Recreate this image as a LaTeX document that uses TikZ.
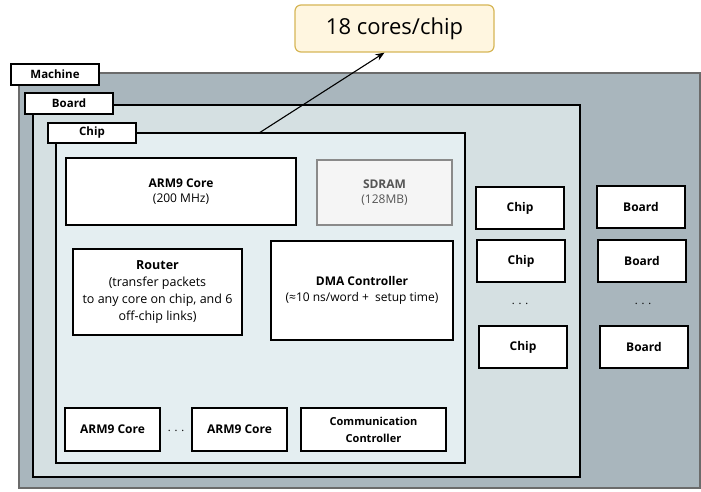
\documentclass[tikz,border=0pt]{standalone}
\usepackage{fontspec}
\setmainfont{Open Sans}
\usetikzlibrary{shadows,arrows.meta,calc}
\definecolor{machinefill}{HTML}{A9B6BD}
\definecolor{machineline}{HTML}{6B6B6B}
\definecolor{boardfill}{HTML}{D5E0E2}
\definecolor{chipfill}{HTML}{E4EEF1}
\definecolor{calloutfill}{HTML}{FFF6E0}
\definecolor{calloutline}{HTML}{D6B656}
\definecolor{sdramfill}{HTML}{F5F5F5}
\definecolor{sdramline}{HTML}{8A8A8A}
\definecolor{sdramtext}{HTML}{555555}
\tikzset{
  shd/.style={drop shadow={shadow xshift=1.2pt, shadow yshift=-1.2pt, opacity=0.35, fill=black}},
  frame/.style={draw=black, line width=1.2pt, shd, inner sep=0pt},
  wbox/.style={draw=black, fill=white, line width=1.2pt, shd, align=center, inner sep=1pt,
    font=\fontsize{12}{15}\selectfont},
  bbox/.style={wbox, font=\bfseries\fontsize{12}{15}\selectfont},
  tab/.style={wbox, font=\bfseries\fontsize{11.5}{13}\selectfont},
  dots/.style={font=\fontsize{11}{13}\selectfont, inner sep=0pt},
}
\begin{document}
\begin{tikzpicture}[x=1pt,y=-1pt]
\useasboundingbox (0,0) rectangle (701,492);
% frames
\node[frame, draw=machineline, fill=machinefill, minimum width=681, minimum height=415] (machine) at (359.5,280.5) {};
\node[frame, fill=boardfill, minimum width=547, minimum height=372] (board) at (306.5,291) {};
\node[frame, fill=chipfill, minimum width=409, minimum height=330] (chip) at (260.5,298) {};
% tabs
\node[tab, minimum width=88, minimum height=21] (machinetab) at (55,74.5) {Machine};
\node[tab, minimum width=88, minimum height=21] (boardtab) at (69,103.5) {Board};
\node[tab, minimum width=88, minimum height=20] (chiptab) at (92,133) {Chip};
% callout
\node[draw=calloutline, fill=calloutfill, line width=1.2pt, rounded corners=6pt,
  minimum width=199, minimum height=47, font=\fontsize{22}{26}\selectfont] (callout) at (394.5,28.5) {18 cores/chip};
% chip contents
\node[wbox, minimum width=230, minimum height=67] (arm) at (181,191.5) {\textbf{ARM9 Core}\\(200 MHz)};
\node[wbox, draw=sdramline, fill=sdramfill, text=sdramtext, minimum width=135, minimum height=65] (sdram) at (384.5,192.5) {\textbf{SDRAM}\\(128MB)};
\node[wbox, minimum width=169, minimum height=86, font=\fontsize{12.5}{16.8}\selectfont] (router) at (157.5,292) {\textbf{Router}\\(transfer packets\\to any core on chip, and 6\\off-chip links)};
\node[wbox, minimum width=182, minimum height=99, font=\fontsize{12}{16.5}\selectfont] (dma) at (362,290.5) {\textbf{DMA Controller}\\(≈10 ns/word +\ \ setup time)};
\node[bbox, minimum width=95, minimum height=43] (core1) at (112.5,429.5) {ARM9 Core};
\node[dots] (coredots) at (176,431) {. . .};
\node[bbox, minimum width=95, minimum height=43] (core2) at (239.5,429.5) {ARM9 Core};
\node[bbox, minimum width=145, minimum height=43, font=\bfseries\fontsize{11}{17}\selectfont] (comm) at (373.5,429.5) {Communication\\Controller};
% chips
\node[bbox, minimum width=88, minimum height=42] (chipA) at (520,208) {Chip};
\node[bbox, minimum width=88, minimum height=42] (chipB) at (521,261) {Chip};
\node[dots] (chipdots) at (520,304) {. . .};
\node[bbox, minimum width=88, minimum height=42] (chipC) at (523,347) {Chip};
% boards
\node[bbox, minimum width=88, minimum height=42] (boardA) at (641,207) {Board};
\node[bbox, minimum width=88, minimum height=42] (boardB) at (642,261) {Board};
\node[dots] (boarddots) at (643,304) {. . .};
\node[bbox, minimum width=88, minimum height=42] (boardC) at (644,347) {Board};
% connector
\coordinate (arrowstart) at ($(chip.north west)!0.500!(chip.north east)+(-0.5,0)$);
\draw[line width=1.1pt, -{Stealth[length=9pt,width=7pt]}] (arrowstart) -- ($(callout.south)+(-10,0)$);
\end{tikzpicture}
\end{document}
